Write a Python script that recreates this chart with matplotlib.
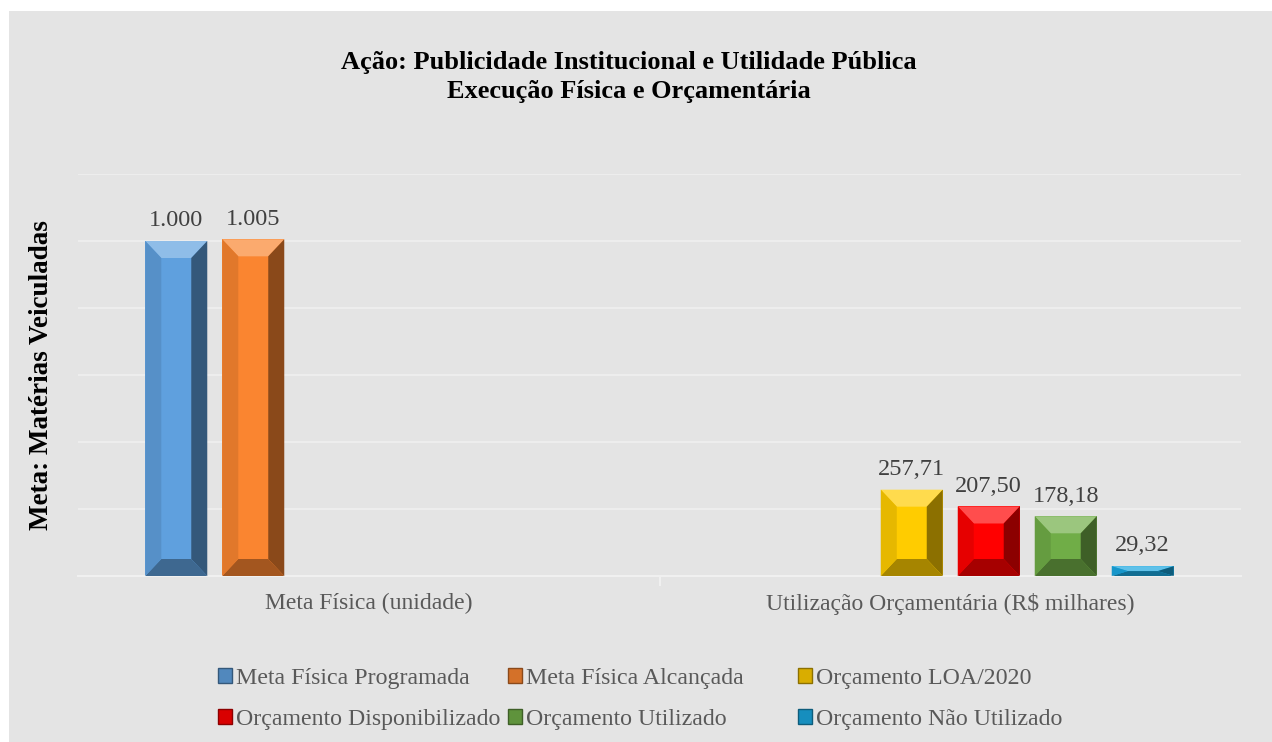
import matplotlib.pyplot as plt
import matplotlib.colors as mcolors
from matplotlib.patches import Polygon, Rectangle, Patch
import numpy as np

plt.rcParams['font.family'] = ['Liberation Serif', 'DejaVu Serif']

categories = ['Meta Física (unidade)', 'Utilização Orçamentária (R$ milhares)']
series_names = ['Meta Física Programada', 'Meta Física Alcançada', 'Orçamento LOA/2020',
                'Orçamento Disponibilizado', 'Orçamento Utilizado', 'Orçamento Não Utilizado']
meta_programada = [1000, 0]
meta_alcancada = [1005, 0]
orc_loa = [0, 257.71]
orc_disponibilizado = [0, 207.50]
orc_utilizado = [0, 178.18]
orc_nao_utilizado = [0, 29.32]
series = [meta_programada, meta_alcancada, orc_loa, orc_disponibilizado,
          orc_utilizado, orc_nao_utilizado]
colors = ['#5fa0de', '#fa8530', '#ffcc00', '#ff0000', '#70ad47', '#1aa7e0']

text_color = '#404040'


def shade(color, f):
    r, g, b = mcolors.to_rgb(color)
    if f >= 0:
        return (r + (1 - r) * f, g + (1 - g) * f, b + (1 - b) * f)
    return (r * (1 + f), g * (1 + f), b * (1 + f))


def bevel(ax, bar, color):
    # draw bevel edges of a bar in pixel units, then map back to data
    x0, y0 = bar.get_x(), bar.get_y()
    x1, y1 = x0 + bar.get_width(), y0 + bar.get_height()
    to_disp = ax.transData
    inv = ax.transData.inverted()
    (X0, Y0), (X1, Y1) = to_disp.transform([(x0, y0), (x1, y1)])
    bx = min(16, (X1 - X0) / 2)
    by = min(17, (Y1 - Y0) / 2)
    oTL, oTR, oBR, oBL = (X0, Y1), (X1, Y1), (X1, Y0), (X0, Y0)
    iTL, iTR, iBR, iBL = (X0 + bx, Y1 - by), (X1 - bx, Y1 - by), (X1 - bx, Y0 + by), (X0 + bx, Y0 + by)
    faces = [([oTL, oTR, iTR, iTL], shade(color, 0.3)),
             ([oTR, oBR, iBR, iTR], shade(color, -0.45)),
             ([oBR, oBL, iBL, iBR], shade(color, -0.35)),
             ([oBL, oTL, iTL, iBL], shade(color, -0.1))]
    for pts, c in faces:
        ax.add_patch(Polygon(inv.transform(pts), closed=True, facecolor=c,
                             edgecolor='none', zorder=3))


fig = plt.figure(figsize=(12.72, 7.42), dpi=100)
fig.patch.set_facecolor('white')
fig.patches.append(Rectangle((9 / 1272, 0), 1, 1 - 11 / 742, transform=fig.transFigure,
                             facecolor='#e4e4e4', edgecolor='none', zorder=-10))

ax = fig.add_axes([78 / 1272, 1 - 576 / 742, (1241 - 78) / 1272, (576 - 174) / 742])
ax.set_facecolor('none')
ax.set_xlim(-0.5, 1.5)
ax.set_ylim(0, 1200)
ax.set_yticks(np.arange(0, 1201, 200))
ax.yaxis.grid(True, color='#efefef', linewidth=1.2)
ax.set_axisbelow(True)
ax.tick_params(axis='y', length=0, labelleft=False)
for s in ['top', 'right', 'left']:
    ax.spines[s].set_visible(False)
ax.spines['bottom'].set_color('#f0f0f0')
ax.spines['bottom'].set_linewidth(1.5)

x = np.arange(len(categories))
slot = 0.1324
width = 0.1066
fig.canvas.draw()
handles = []
for i, (vals, c) in enumerate(zip(series, colors)):
    pos = x + (i - 2.5) * slot
    bars = ax.bar(pos, vals, width, color=c, zorder=2)
    for b, v in zip(bars, vals):
        if v <= 0:
            continue
        bevel(ax, b, c)
        if v >= 1000:
            lab = f'{v:,.0f}'.replace(',', '.')
        else:
            lab = f'{v:.2f}'.replace('.', ',')
        ax.annotate(lab, (b.get_x() + b.get_width() / 2, v), xytext=(0, 7),
                    textcoords='offset points', ha='center', va='bottom',
                    fontsize=17.5, color=text_color, zorder=4)
    handles.append(Patch(facecolor=shade(c, -0.15), edgecolor=shade(c, -0.45), label=series_names[i]))

ax.set_xticks(x)
ax.set_xticklabels(categories, fontsize=17, color='#595959')
ax.tick_params(axis='x', length=0, pad=12)
ax.set_xticks([0.5], minor=True)
ax.tick_params(axis='x', which='minor', length=7, color='#f0f0f0', width=1.5)

fig.text(0.4945, 1 - 77 / 742, 'Ação: Publicidade Institucional e Utilidade Pública\nExecução Física e Orçamentária',
         ha='center', va='center', fontsize=19, fontweight='bold', color='black', linespacing=1.38)
fig.text(42 / 1272, 1 - 375 / 742, 'Meta: Matérias Veiculadas', rotation=90, ha='center', va='center',
         fontsize=19.5, fontweight='bold', color='black')

# legend laid out row-wise in three columns, like the original
col_x = [218, 508, 798]
for j in range(3):
    idx = [j, j + 3]
    leg = fig.legend([handles[k] for k in idx], [series_names[k] for k in idx],
                     loc='center left', bbox_to_anchor=(col_x[j] / 1272, 1 - 699 / 742),
                     frameon=False, fontsize=17.2, handlelength=0.58, handleheight=0.58,
                     handletextpad=0.17, labelspacing=0.85, borderpad=0, borderaxespad=0)
    for t in leg.get_texts():
        t.set_color('#595959')

fig.savefig('out.png', dpi=100)
